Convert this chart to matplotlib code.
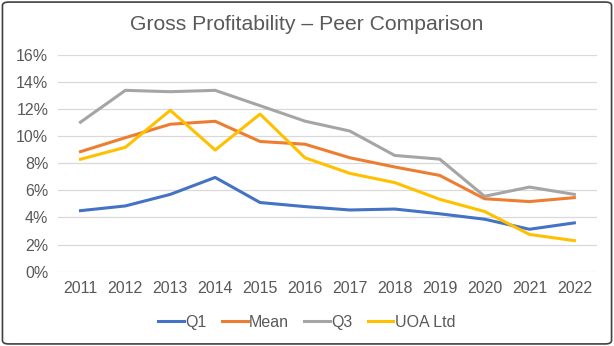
import matplotlib.pyplot as plt
from matplotlib.patches import FancyBboxPatch
from matplotlib.ticker import PercentFormatter

# Données (en %)
years = [str(y) for y in range(2011, 2023)]
q1 = [4.5, 4.85, 5.7, 6.95, 5.1, 4.8, 4.55, 4.62, 4.27, 3.87, 3.13, 3.6]
mean = [8.85, 9.88, 10.87, 11.09, 9.6, 9.4, 8.4, 7.72, 7.1, 5.38, 5.17, 5.46]
q3 = [11.02, 13.37, 13.27, 13.37, 12.24, 11.1, 10.37, 8.57, 8.3, 5.56, 6.24, 5.7]
uoa = [8.29, 9.17, 11.9, 8.97, 11.62, 8.4, 7.25, 6.57, 5.34, 4.44, 2.75, 2.29]

plt.rcParams['font.family'] = ['Liberation Sans', 'DejaVu Sans']
grey = "#595959"

fig = plt.figure(figsize=(6.14, 3.46), dpi=100)
ax = fig.add_axes([0.0945, 0.2147, 0.8775, 0.6273])

x = range(len(years))
ax.plot(x, q1, color="#4472C4", lw=2.2, label="Q1")
ax.plot(x, mean, color="#ED7D31", lw=2.2, label="Mean")
ax.plot(x, q3, color="#A5A5A5", lw=2.2, label="Q3")
ax.plot(x, uoa, color="#FFC000", lw=2.2, label="UOA Ltd")

ax.set_xlim(-0.5, len(years) - 0.5)
ax.set_ylim(0, 16)
ax.set_yticks(range(0, 17, 2))
ax.yaxis.set_major_formatter(PercentFormatter(decimals=0))
ax.set_xticks(list(x))
ax.set_xticklabels(years)
ax.tick_params(length=0, labelsize=11.5, colors=grey, pad=7)
ax.grid(axis="y", color="#D9D9D9", lw=0.9)
ax.set_axisbelow(True)
for s in ax.spines.values():
    s.set_visible(False)

fig.suptitle("Gross Profitability – Peer Comparison", y=0.958, fontsize=15.2, color=grey)
fig.legend(loc="center", bbox_to_anchor=(0.5, 0.068), ncol=4, frameon=False,
           fontsize=11.5, labelcolor=grey, handlelength=1.6, handletextpad=0.1,
           columnspacing=0.95)

# Cadre autour de la figure
fig.patches.append(FancyBboxPatch((0.004, 0.006), 0.992, 0.988,
                                  boxstyle="round,pad=0,rounding_size=0.01",
                                  transform=fig.transFigure, fill=False,
                                  edgecolor="#404040", lw=1.2))

plt.savefig("out.png", dpi=100)
